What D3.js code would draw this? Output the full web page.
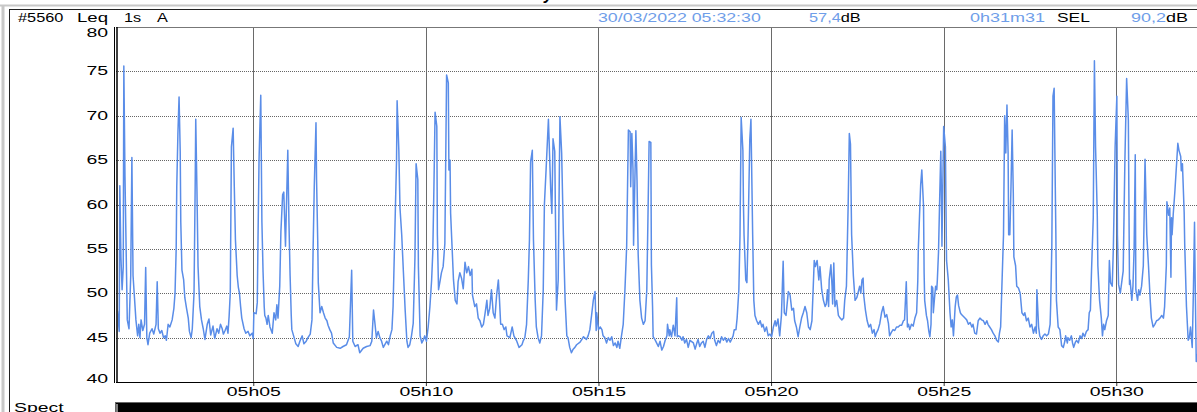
<!DOCTYPE html>
<html>
<head>
<meta charset="utf-8">
<script src="https://cdn.jsdelivr.net/npm/d3@7"></script>
<style>
body { margin: 0; background: #fff; overflow: hidden; }
text { font-family: "Liberation Sans", Arial, sans-serif; }
</style>
</head>
<body>
<script>
var width = 1197,
  height = 412;

// recording start, 05:01:00, Leq 1s readings
var startTime = new Date(2022, 2, 30, 5, 1, 0);
var durationSec = 1890;

// seconds after start
var secs = [1,4,7,8,10,12,14,15,17,19,21,24,27,29,31,33,36,39,41,43,45,48,51,53,55,57,60,64,67,71,73,75,78,81,84,87,89,92,95,99,
  102,104,106,107,109,111,113,114,116,119,121,124,127,129,132,134,137,139,140,142,144,146,147,150,153,156,160,163,166,170,173,177,180,183,186,188,191,194,196,198,
  200,202,205,207,209,212,214,216,218,220,224,227,231,234,238,240,241,245,247,248,250,253,255,257,259,260,262,264,266,269,273,276,279,281,283,286,288,291,293,296,
  300,302,304,306,307,311,314,318,321,325,328,332,335,339,342,344,346,349,350,352,353,356,359,362,365,368,370,373,376,379,385,391,396,402,407,411,413,417,422,425,
  431,437,443,446,449,451,454,457,460,463,466,472,475,478,481,483,486,489,490,493,495,498,501,504,507,509,512,515,518,521,523,526,527,530,533,536,538,541,544,547,
  550,552,554,556,559,560,562,565,567,570,573,576,579,580,582,583,585,588,591,594,596,599,602,605,608,611,614,617,620,621,625,628,631,634,637,640,643,646,648,651,
  654,657,660,663,666,668,670,673,676,679,681,686,690,693,698,702,707,709,712,715,718,720,722,725,727,730,732,735,738,741,744,746,749,753,754,757,759,761,764,767,
  770,773,776,779,782,785,787,790,793,796,799,802,808,814,819,822,825,828,831,834,836,837,840,843,846,848,851,854,857,860,863,866,869,872,874,877,880,883,886,889,
  892,895,896,898,900,901,905,907,909,912,915,918,921,924,926,928,931,932,934,935,938,941,944,947,950,953,956,959,960,963,964,967,970,973,976,977,979,982,985,987,
  990,993,996,999,1005,1008,1011,1013,1016,1019,1022,1025,1028,1031,1034,1037,1040,1042,1045,1048,1051,1054,1057,1060,1063,1066,1069,1072,1074,1076,1079,1081,1084,1086,1088,1091,1092,1093,1096,1098,
  1100,1103,1105,1108,1110,1112,1115,1118,1121,1124,1126,1129,1132,1135,1138,1141,1144,1147,1149,1152,1155,1158,1161,1163,1166,1170,1173,1176,1179,1181,1184,1187,1190,1193,1196,1199,1202,1205,1208,1211,
  1213,1215,1217,1220,1223,1225,1228,1231,1234,1236,1238,1240,1241,1244,1246,1247,1249,1251,1254,1257,1260,1263,1266,1268,1271,1274,1276,1278,1280,1283,1286,1289,1291,1294,1296,1298,1300,1301,1304,1307,
  1310,1313,1316,1319,1321,1323,1326,1329,1332,1335,1338,1341,1344,1346,1349,1352,1355,1358,1361,1364,1367,1370,1372,1375,1377,1379,1381,1384,1387,1390,1393,1395,1396,1398,1400,1402,1405,1406,1407,1410,
  1412,1414,1416,1418,1419,1421,1422,1424,1426,1428,1429,1431,1433,1435,1436,1437,1440,1443,1444,1445,1448,1451,1453,1455,1457,1460,1462,1464,1466,1469,1471,1474,1477,1480,1483,1486,1489,1491,1494,1497,
  1500,1503,1506,1509,1512,1515,1517,1520,1523,1526,1529,1532,1535,1537,1539,1541,1544,1546,1548,1550,1552,1553,1555,1557,1559,1561,1562,1565,1567,1570,1573,1576,1579,1581,1584,1587,1590,1593,1596,1599,
  1601,1602,1605,1607,1610,1613,1616,1619,1622,1625,1626,1628,1630,1632,1634,1635,1636,1639,1642,1645,1648,1651,1652,1655,1656,1659,1662,1664,1666,1669,1671,1674,1677,1680,1682,1685,1688,1691,1693,1695,
  1697,1700,1702,1704,1707,1708,1711,1714,1716,1718,1720,1723,1726,1728,1730,1733,1735,1738,1741,1742,1744,1747,1750,1752,1755,1758,1761,1763,1764,1767,1769,1771,1773,1774,1777,1779,1781,1784,1787,1790,
  1793,1796,1799,1801,1804,1807,1810,1813,1816,1819,1822,1824,1827,1828,1831,1833,1835,1836,1837,1839,1842,1847,1849,1852,1853,1855,1858,1859,1862,1865,1867,1869,1872,1874,1876,1877,1879,1884];

// dB(A)
var levels = [47.5,48,45.7,62.1,54,50.4,53,75.6,63.1,55,47,46,52,65.3,52,50,47,45.2,46.5,45,47,45.8,46.5,52.9,45,44.2,45.5,46,45.4,46.5,51.3,46,45.5,45.8,45,45.2,44.7,46.5,46.2,47,
  48.3,50,55,62,68,72.1,66,58,52.6,51.5,49.5,48.3,47.2,45.7,45,46,50,62,69.6,62,53,50,48.5,47,46,44.8,46.5,47.1,45.3,46.3,44.9,46,45.5,46.5,46,45.4,45.8,46.3,45.5,47.4,
  50,66.5,68.6,62,56,52,50.7,50,48.5,47.2,46,45.5,45.7,45.2,45.5,44.9,47.8,47.7,49,55,65,72.3,58,52.4,48.5,47.5,47.2,46.5,47.5,46.2,45.5,47.8,47,48.7,47.2,50.8,56.9,61.1,61.4,55.3,
  66.1,58,52,47.5,45.9,45,44.3,44,44.6,45.2,44.3,44.6,45,45.4,47,55,62,69.2,62.8,56,51.2,47.8,48.5,47.8,47.2,46.9,46.4,45.9,45.5,44.4,43.9,43.8,44,44.2,45.1,52.6,44.6,44,44.2,43.3,
  43.8,44,44.1,44.6,48.1,46.9,45,45.7,45,44.6,43.9,44.6,44.2,45.2,45.9,48.5,56.8,65,71.7,66.1,59.6,56.6,52.3,48.1,44.6,43.9,44.2,45.2,46.6,54,64.6,62.8,53,45.2,44.4,44.8,45.2,44.6,46.2,48.5,
  51.5,54.6,62,70.4,68.8,56.6,50.4,51.5,52.3,53,55.6,74.6,73.7,63.9,65,59,56,51.5,49.2,48.8,51.3,52.3,51.7,50.5,53.5,52.3,53,52,52.7,49.8,48.5,48.8,47.2,46.9,46.2,46.5,47.8,49.2,47.5,48.3,
  50.4,47.8,47.2,49.8,51.5,49.2,46.5,46.5,45.9,46.2,45.2,45,46.2,45.2,44.6,43.9,44.2,44.6,45,46.5,51.5,56,64.8,66.1,56,49.2,46.2,45,44.4,45.2,50.4,60,64,69.6,67.6,61.6,59,67.4,66,48.1,
  51.5,69.9,65.8,56.6,49.2,45.2,45,43.9,43.3,43.7,43.9,44.2,44.5,45.1,44.8,45.2,45.9,47.5,49.2,50.2,45.8,47.8,45.9,46.2,45.9,45.2,45,44.4,45,44.7,45.1,44.1,44.4,43.9,44.6,43.8,45.2,46.5,50.4,55.3,
  68.4,68.2,62,68,64,55.4,68.3,62.7,54.4,49.2,47.2,46.5,46.9,50.4,58.5,67.1,67,53.2,48.5,45.1,44.8,44.4,44,44.6,43.6,44,44.7,45.2,46.5,45.2,45.9,45.1,46.4,45.2,49.5,45.1,45.2,45.1,44.7,45.1,
  44.4,44.8,43.9,44.7,44.4,43.7,44.4,44.8,44,44.4,44.6,43.9,44.8,45.2,44.9,45.5,45.7,44.7,44.1,44.7,44.4,45.1,44.7,45,44.5,44.9,44.5,44.9,45.2,45.9,45.9,47.2,50.4,56.6,69.8,66.1,60,56.6,51.5,51.2,
  56.6,67.3,69.6,56.6,49.2,47.5,46.9,46.5,46.9,46.2,46.5,45.7,46.2,45.2,45.4,45.1,46.2,46.9,46.3,47.1,45.2,47.5,53.6,47.8,47.5,50.2,49.8,48.1,48.3,46.9,46.2,45.1,46.2,47.2,47.8,48.5,47.8,46.2,45.9,46.9,
  50.2,53.7,53,53.7,51.5,53,50.4,49.2,48.5,48.8,50.4,48.5,51.5,53.2,50.8,48.8,53.4,48.5,49.2,47.5,47.2,47,47.2,49.2,50.8,60,68,66.8,56.6,52,49.2,49.5,50,50.8,50,51.5,51.7,49.8,48.1,46.9,
  46.2,46.5,45.5,45.9,45.1,45.5,45.9,46.6,47.8,48.5,47.3,47.6,46.6,45.2,45.6,45.9,45.8,46.2,46.2,46.4,46.4,46.9,47,51.3,46.2,46.5,45.9,46.5,46.3,47.2,47.8,51.4,55.1,58.7,62.2,63.9,59.8,52.3,49.2,47.5,
  46.9,45.8,45.1,46.5,50.8,50.6,47.8,49.4,50.8,50.4,51.5,54.6,60.5,66,61.8,55.3,68.8,66.5,59.8,53.7,51.5,47.8,46.2,47,45.2,48.5,49.6,49.8,48.6,47.8,47.6,47.4,47.2,47,46.5,46.7,46.2,46.5,45.5,45.4,
  46.9,47.2,47,46.9,46.5,46.9,46.5,46.2,45.9,45.5,45.2,44.7,44.5,45.5,46.2,50.4,56.6,70,65.8,71.2,65.8,56.6,56.6,62,68.4,61.3,54.1,53.1,50.8,50.6,50,47.8,47.5,47.8,46.9,47.2,46.2,46.5,45.5,46.2,
  45.5,50.4,46.2,45.2,44.8,45.2,45.4,45.2,45.4,46.5,48.8,55.4,72.2,73.1,62,56.6,49.2,46.2,45.9,44.1,43.9,44.7,45.2,44.4,45,44.7,45.2,44.4,43.9,44.5,44.7,44.4,45.2,44.9,45.5,45.1,45.7,45.9,47.8,48.1,
  52.6,58.5,76.2,66.5,58.8,53.1,49.2,47.2,45.2,46.5,45.9,46.9,47.5,53.7,51.2,50.8,55.3,66.5,72.2,56.6,51,50,51.5,52.5,65,74.2,69.5,51,51.5,49.2,50.8,55,65.6,50.4,49.2,50.4,49.8,50.8,53.1,65.1,
  56.6,53.1,49.2,47.2,46.2,46.5,46.9,47,47.2,47.5,47.2,48.5,53.1,60.3,58.8,59.6,51.8,58.5,56.6,58.9,61.6,66.9,66.1,65.4,63.8,64.6,59.1,55.4,48.5,44.7,45,46.2,43.9,50,58,52,42.3,44];

var yTicks = [40, 45, 50, 55, 60, 65, 70, 75, 80];
var stationId = "#5560";
var measureLabel = ["Leq", "1s", "A"];
var cursorInfo = ["30/03/2022 05:32:30", "57,4", "0h31m31", "90,2"];

var lineColor = "#5a8de8";
var infoColor = "#6f9ee9";
var sxHead = 1.36, sxAxis = 1.62;

var plotLeft = 116, plotTop = 27, plotBottom = 382;

var data = secs.map(function(s, i) {
  return { t: d3.timeSecond.offset(startTime, s), v: levels[i] };
});

var scaleX = d3.scaleTime()
  .domain([startTime, d3.timeSecond.offset(startTime, durationSec)])
  .range([115.2, 115.2 + durationSec * 0.57533]);

var scaleY = d3.scaleLinear()
  .domain([40, 80])
  .range([plotBottom, plotTop]);

function wideText(parent, x, y, size, sx) {
  return parent.append("g")
    .attr("transform", "translate(" + x + "," + y + ") scale(" + sx + ",1)")
    .append("text")
    .style("font-size", size + "px");
}

function drawFrame(svg) {
  svg.append("line").attr("x1", 0).attr("x2", width).attr("y1", 5.5).attr("y2", 5.5)
    .style("stroke", "#c8c8c8").style("stroke-width", 2);
  svg.append("line").attr("x1", 3).attr("x2", 3).attr("y1", 5).attr("y2", height)
    .style("stroke", "#c8c8c8").style("stroke-width", 3);
  svg.append("line").attr("x1", 9).attr("x2", width).attr("y1", 9.5).attr("y2", 9.5)
    .style("stroke", "#222");
  svg.append("line").attr("x1", 9.5).attr("x2", 9.5).attr("y1", 9.5).attr("y2", height)
    .style("stroke", "#222");

  // bit of the title above the frame
  svg.append("text").attr("x", 544).attr("y", 0)
    .style("font-size", "16px").style("font-weight", "bold").style("font-style", "italic")
    .text("y");
}

function drawHeader(svg) {
  wideText(svg, 18, 22, 12, sxHead).text(stationId);
  wideText(svg, 77, 22, 12, 1.55).text(measureLabel[0]);
  wideText(svg, 124, 22, 12, sxHead).text(measureLabel[1]);
  wideText(svg, 157, 22, 12, sxHead).text(measureLabel[2]);

  wideText(svg, 598, 22, 12, 1.48).style("fill", infoColor).text(cursorInfo[0]);

  var t1 = wideText(svg, 809, 22, 12, sxHead);
  t1.append("tspan").style("fill", infoColor).text(cursorInfo[1]);
  t1.append("tspan").style("fill", "#000").text("dB");

  wideText(svg, 970, 22, 12, 1.5).style("fill", infoColor).text(cursorInfo[2]);
  wideText(svg, 1057, 22, 12, 1.45).text("SEL");

  var t2 = wideText(svg, 1131, 22, 12, 1.5);
  t2.append("tspan").style("fill", infoColor).text(cursorInfo[3]);
  t2.append("tspan").style("fill", "#000").text("dB");
}

function drawGrid(svg) {
  svg.selectAll(".hgrid")
    .data(yTicks.filter(function(d) { return d > 40 && d < 80; }))
    .enter()
    .append("line")
    .attr("class", "hgrid")
    .attr("x1", plotLeft).attr("x2", width)
    .attr("y1", function(d) { return Math.round(scaleY(d)) + 0.5; })
    .attr("y2", function(d) { return Math.round(scaleY(d)) + 0.5; })
    .style("stroke", "#666")
    .style("stroke-dasharray", "1,1");

  var vt = scaleX.ticks(d3.timeMinute.every(5));
  svg.selectAll(".vgrid")
    .data(vt)
    .enter()
    .append("line")
    .attr("class", "vgrid")
    .attr("x1", function(d) { return Math.round(scaleX(d)) + 0.5; })
    .attr("x2", function(d) { return Math.round(scaleX(d)) + 0.5; })
    .attr("y1", plotTop).attr("y2", plotBottom)
    .style("stroke", "#6a6a6a");

  // top border of plot
  svg.append("line").attr("x1", plotLeft).attr("x2", width)
    .attr("y1", plotTop + 0.5).attr("y2", plotTop + 0.5)
    .style("stroke", "#777");
}

function drawAxes(svg) {
  var xAxis = d3.axisBottom(scaleX)
    .ticks(d3.timeMinute.every(5))
    .tickSize(4)
    .tickFormat("");

  var gx = svg.append("g")
    .attr("transform", "translate(0," + plotBottom + ")")
    .call(xAxis);
  gx.select(".domain").remove();
  gx.selectAll(".tick line").style("stroke", "#333");
  gx.selectAll(".tick").each(function(d) {
    wideText(d3.select(this), 0, 14, 12, sxAxis)
      .attr("text-anchor", "middle")
      .style("fill", "#000")
      .text(d3.timeFormat("%Hh%M")(d));
  });

  svg.append("line").attr("x1", plotLeft).attr("x2", width)
    .attr("y1", plotBottom + 0.5).attr("y2", plotBottom + 0.5)
    .style("stroke", "#000");

  // double left spine
  svg.append("line").attr("x1", 114.5).attr("x2", 114.5)
    .attr("y1", plotTop).attr("y2", plotBottom + 1).style("stroke", "#000");
  svg.append("line").attr("x1", 117).attr("x2", 117)
    .attr("y1", plotTop).attr("y2", plotBottom + 1).style("stroke", "#000").style("stroke-width", 1.5);

  svg.selectAll(".ylab")
    .data(yTicks)
    .enter()
    .each(function(d) {
      var dy = 4;
      if (d === 80) dy = 9.5;
      if (d === 40) dy = 0.5;
      wideText(svg, 108, scaleY(d) + dy, 12, sxAxis)
        .attr("text-anchor", "end")
        .text(d);
    });
}

function drawLine(svg) {
  svg.append("clipPath").attr("id", "plotclip")
    .append("rect")
    .attr("x", 118).attr("y", plotTop)
    .attr("width", width - 118).attr("height", plotBottom - plotTop);

  var line = d3.line()
    .x(function(d) { return scaleX(d.t); })
    .y(function(d) { return scaleY(d.v); });

  svg.append("path")
    .datum(data)
    .attr("clip-path", "url(#plotclip)")
    .attr("d", line)
    .style("fill", "none")
    .style("stroke", lineColor)
    .style("stroke-width", 1.5)
    .style("stroke-linejoin", "round");
}

function drawSpect(svg) {
  wideText(svg, 14, 411.5, 12, sxAxis).text("Spect");
  svg.append("rect")
    .attr("x", 115.5).attr("y", 402.5)
    .attr("width", width - 115).attr("height", 12)
    .style("fill", "#000")
    .style("stroke", "#666");
  svg.append("line").attr("x1", 117).attr("x2", 117)
    .attr("y1", 404).attr("y2", height)
    .style("stroke", "#fff");
}

var svg = d3.select("body").append("svg")
  .attr("width", width)
  .attr("height", height);

drawFrame(svg);
drawHeader(svg);
drawGrid(svg);
drawLine(svg);
drawAxes(svg);
drawSpect(svg);
</script>
</body>
</html>
